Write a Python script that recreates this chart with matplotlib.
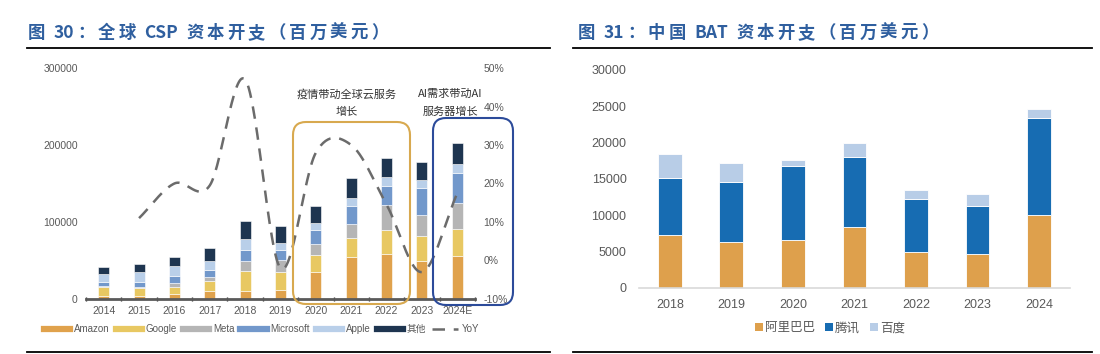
import numpy as np
import matplotlib.pyplot as plt
from matplotlib.lines import Line2D
from matplotlib.patches import FancyBboxPatch, Patch

plt.rcParams['font.family'] = ['Liberation Sans', 'Noto Sans CJK SC', 'DejaVu Sans']

# ---- data: global CSP capex (USD mn) ----
csp_years = ['2014', '2015', '2016', '2017', '2018', '2019', '2020', '2021', '2022', '2023', '2024E']
amazon = [4300, 3500, 6100, 10000, 10800, 12100, 34600, 54500, 58900, 49800, 55800]
google = [11300, 10800, 9900, 13000, 25600, 23400, 22100, 25200, 31100, 31600, 35500]
meta = [1300, 1700, 4800, 6000, 13400, 15100, 15200, 17700, 31600, 28100, 32900]
microsoft = [5200, 6500, 9500, 9100, 13900, 13000, 17300, 23800, 25200, 35100, 39400]
apple = [10800, 12600, 12100, 11700, 14200, 9600, 9100, 9500, 11600, 10400, 11700]
others = [8700, 10400, 12600, 16900, 23400, 21200, 22500, 26400, 24300, 23400, 27300]
yoy_years = csp_years[1:]
yoy = [11, 20, 19.5, 47, -2, 28, 30, 14.5, -3, 17.5]

# ---- data: China BAT capex (USD mn) ----
bat_years = ['2018', '2019', '2020', '2021', '2022', '2023', '2024']
alibaba = [7260, 6340, 6520, 8310, 4960, 4590, 10010]
tencent = [7850, 8180, 10250, 9740, 7300, 6710, 13370]
baidu = [3310, 2710, 780, 1840, 1200, 1610, 1200]

title_color = '#2f5f9f'
tick_color = '#595959'
cjk = ['Noto Sans CJK SC', 'DejaVu Sans']

fig = plt.figure(figsize=(11, 3.54), dpi=100)
renderer = fig.canvas.get_renderer()

# overlay in pixel coordinates for titles, rules and annotation boxes
ov = fig.add_axes([0, 0, 1, 1], zorder=5)
ov.set_xlim(0, 1100)
ov.set_ylim(0, 354)
ov.axis('off')
ov.patch.set_alpha(0)


def spaced_title(x, y, tokens, gap):
    # draw the title token by token to get the wide letter spacing of the original
    for tok in tokens:
        if tok == ' ':
            x += 5
            continue
        t = ov.text(x, y, tok, fontsize=12.5, fontweight='bold', color=title_color,
                    va='center', ha='left', family=cjk)
        x += t.get_window_extent(renderer).width + gap


spaced_title(28, 354 - 33, ['图', ' ', '30', '：', '全', '球', ' ', 'CSP', ' ', '资', '本', '开', '支',
                            '（', '百', '万', '美', '元', '）'], 3.2)
spaced_title(578, 354 - 33, ['图', ' ', '31', '：', '中', '国', ' ', 'BAT', ' ', '资', '本', '开', '支',
                             '（', '百', '万', '美', '元', '）'], 3.2)
for x0, x1 in [(27, 550), (573, 1092)]:
    ov.plot([x0, x1], [354 - 48, 354 - 48], color='black', lw=1.3)
    ov.plot([x0, x1], [354 - 352, 354 - 352], color='black', lw=1.3)

# ---------------- left chart ----------------
ax = fig.add_axes([0.0782, 0.1554, 0.3536, 0.6525])
x = np.arange(len(csp_years))
series = [amazon, google, meta, microsoft, apple, others]
names = ['Amazon', 'Google', 'Meta', 'Microsoft', 'Apple', '其他']
colors = ['#e0a24c', '#e8c862', '#b5b5b5', '#7298cb', '#b9cfe9', '#1e3550']
bottom = np.zeros(len(x))
for vals, c in zip(series, colors):
    ax.bar(x, vals, width=0.31, bottom=bottom, color=c, edgecolor='white', linewidth=0.4)
    bottom += np.array(vals)

ax.set_xlim(-0.5, 10.5)
ax.set_ylim(0, 300000)
ax.set_yticks([0, 100000, 200000, 300000])
ax.set_xticks(x)
ax.set_xticklabels(csp_years)
ax.set_xticks(np.arange(-0.5, 11, 1), minor=True)
for s in ['top', 'left', 'right']:
    ax.spines[s].set_visible(False)
ax.spines['bottom'].set_color('#5a5a5a')
ax.spines['bottom'].set_linewidth(2)
ax.tick_params(axis='x', which='major', length=0, labelsize=7.5, colors=tick_color, pad=5)
ax.tick_params(axis='x', which='minor', length=3, direction='inout', color='#333333', width=1)
ax.tick_params(axis='y', length=0, labelsize=7.5, colors=tick_color, pad=6)

ax2 = ax.twinx()
# smooth line (Catmull-Rom) through the YoY points
xp = np.arange(1, len(csp_years), dtype=float)
yp = np.array(yoy, dtype=float)
pts_x = np.concatenate([[2 * xp[0] - xp[1]], xp, [2 * xp[-1] - xp[-2]]])
pts_y = np.concatenate([[2 * yp[0] - yp[1]], yp, [2 * yp[-1] - yp[-2]]])
sx, sy = [], []
for i in range(1, len(pts_x) - 2):
    t = np.linspace(0, 1, 30)
    p0, p1, p2, p3 = pts_y[i - 1:i + 3]
    m1 = (p2 - p0) / 2
    m2 = (p3 - p1) / 2
    h00 = 2 * t**3 - 3 * t**2 + 1
    h10 = t**3 - 2 * t**2 + t
    h01 = -2 * t**3 + 3 * t**2
    h11 = t**3 - t**2
    sy.extend(h00 * p1 + h10 * m1 + h01 * p2 + h11 * m2)
    sx.extend(pts_x[i] + t)
ax2.plot(sx, sy, color='#6b6b6b', lw=1.8, dashes=(5, 3.5))
ax2.set_ylim(-10, 50)
ax2.set_yticks(range(-10, 51, 10))
ax2.set_yticklabels([f'{v}%' for v in range(-10, 51, 10)])
for s in ['top', 'left', 'right', 'bottom']:
    ax2.spines[s].set_visible(False)
ax2.tick_params(axis='y', length=0, labelsize=7.5, colors=tick_color, pad=6)

# annotation boxes
ov.add_patch(FancyBboxPatch((293, 354 - 304), 117, 182, boxstyle='round,pad=0,rounding_size=13',
                            fill=False, edgecolor='#d8a94f', lw=1.5))
ov.add_patch(FancyBboxPatch((433, 354 - 305), 80, 187, boxstyle='round,pad=0,rounding_size=13',
                            fill=False, edgecolor='#2c4b9a', lw=1.5))
ov.text(347, 354 - 94, '疫情带动全球云服务', fontsize=8, ha='center', va='center', color='#333333', family=cjk)
ov.text(347, 354 - 112, '增长', fontsize=8, ha='center', va='center', color='#333333', family=cjk)
ov.text(450, 354 - 94, 'AI需求带动AI', fontsize=8, ha='center', va='center', color='#333333', family=cjk)
ov.text(450, 354 - 112, '服务器增长', fontsize=8, ha='center', va='center', color='#333333', family=cjk)

handles = [Line2D([0], [0], color=c, lw=4.5) for c in colors]
handles.append(Line2D([0], [0], color='#6b6b6b', lw=1.8, dashes=(5, 3.5)))
leg = fig.legend(handles, names + ['YoY'], loc='center', bbox_to_anchor=(262 / 1100, 1 - 329 / 354),
                 ncol=7, frameon=False, fontsize=7, handlelength=2.7, columnspacing=0.6,
                 handletextpad=0.4, borderaxespad=0)
for t in leg.get_texts():
    t.set_color(tick_color)

# ---------------- right chart ----------------
bx = fig.add_axes([0.5809, 0.1873, 0.3918, 0.615])
xb = np.arange(len(bat_years))
bat_series = [alibaba, tencent, baidu]
bat_names = ['阿里巴巴', '腾讯', '百度']
bat_colors = ['#dea04c', '#176cb2', '#b8cde7']
bottom = np.zeros(len(xb))
for vals, c in zip(bat_series, bat_colors):
    bx.bar(xb, vals, width=0.385, bottom=bottom, color=c, edgecolor='#ffffff', linewidth=0.6)
    bottom += np.array(vals)
bx.set_xlim(-0.5, 6.5)
bx.set_ylim(0, 30000)
bx.set_yticks(range(0, 30001, 5000))
bx.set_xticks(xb)
bx.set_xticklabels(bat_years)
for s in ['top', 'left', 'right']:
    bx.spines[s].set_visible(False)
bx.spines['bottom'].set_color('#d9d9d9')
bx.spines['bottom'].set_linewidth(1.2)
bx.tick_params(axis='both', length=0, labelsize=9, colors=tick_color)
bx.tick_params(axis='x', pad=8)
bx.tick_params(axis='y', pad=9)

bh = [Patch(facecolor=c, edgecolor='none') for c in bat_colors]
leg2 = fig.legend(bh, bat_names, loc='center', bbox_to_anchor=(830 / 1100, 1 - 328 / 354), ncol=3,
                  frameon=False, handlelength=0.6, handleheight=0.6, handletextpad=0.2,
                  columnspacing=0.8, borderaxespad=0, prop={'family': cjk, 'size': 9})
for t in leg2.get_texts():
    t.set_color(tick_color)

fig.savefig('out.png', dpi=100)
